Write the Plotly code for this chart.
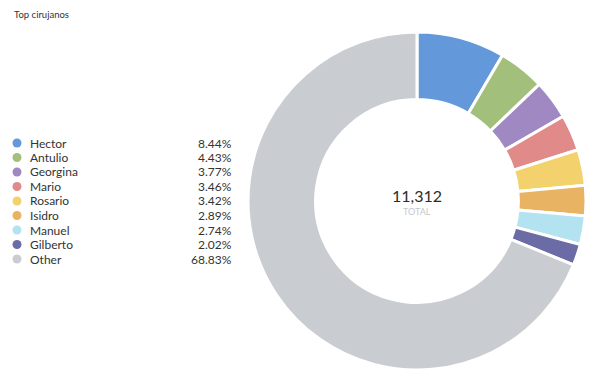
import plotly.graph_objects as go

names = ["Hector", "Antulio", "Georgina", "Mario", "Rosario", "Isidro", "Manuel", "Gilberto", "Other"]
percents = [8.44, 4.43, 3.77, 3.46, 3.42, 2.89, 2.74, 2.02, 68.83]
colors = ["#6399db", "#a2c07c", "#a089c2", "#e08a8a", "#f3d26e", "#e8b363", "#b3e3f0", "#6b6ca6", "#c9cdd1"]
total_label = "11,312"
title_text = "Top cirujanos"

W, H = 599, 385
OFF = 8  # page body margin offset


def px(x):
    return (x - OFF) / W


def py(y):
    return 1 - (y - OFF) / H


fig = go.Figure()
fig.add_trace(go.Pie(
    labels=names, values=percents, sort=False, direction="clockwise", rotation=0,
    hole=0.6, marker=dict(colors=colors, line=dict(color="white", width=3)),
    textinfo="none", hoverinfo="label+percent", showlegend=False,
    domain=dict(x=[px(248), px(586)], y=[py(370), py(32)]),
))

font = "Lato, 'Open Sans', sans-serif"
annotations = [
    dict(text=title_text, x=px(12), y=py(14), xref="paper", yref="paper", xanchor="left", yanchor="middle",
         showarrow=False, font=dict(family=font, size=9.5, color="#333333")),
    dict(text=total_label, x=px(417), y=py(196), xref="paper", yref="paper", xanchor="center", yanchor="middle",
         showarrow=False, font=dict(family=font, size=16, color="#2b2b2b")),
    dict(text="TOTAL", x=px(417), y=py(212), xref="paper", yref="paper", xanchor="center", yanchor="middle",
         showarrow=False, font=dict(family=font, size=9, color="#c4c8cc")),
]
shapes = []
row0, step = 143, 14.5
for i, (n, p, c) in enumerate(zip(names, percents, colors)):
    yp = row0 + i * step
    annotations.append(dict(text=n, x=px(28), y=py(yp), xref="paper", yref="paper", xanchor="left",
                            yanchor="middle", showarrow=False, font=dict(family=font, size=12, color="#333333")))
    annotations.append(dict(text=f"{p:.2f}%", x=px(234), y=py(yp), xref="paper", yref="paper",
                            xanchor="right", yanchor="middle", showarrow=False,
                            font=dict(family=font, size=12, color="#333333")))
    shapes.append(dict(type="circle", xref="paper", yref="paper",
                       x0=px(17 - 4.5), x1=px(17 + 4.5), y0=py(yp + 4.5), y1=py(yp - 4.5),
                       fillcolor=c, line=dict(width=0)))

fig.update_layout(width=W, height=H, margin=dict(l=0, r=0, t=0, b=0), paper_bgcolor="white",
                  plot_bgcolor="white", annotations=annotations, shapes=shapes)
fig.write_html("out.html")
